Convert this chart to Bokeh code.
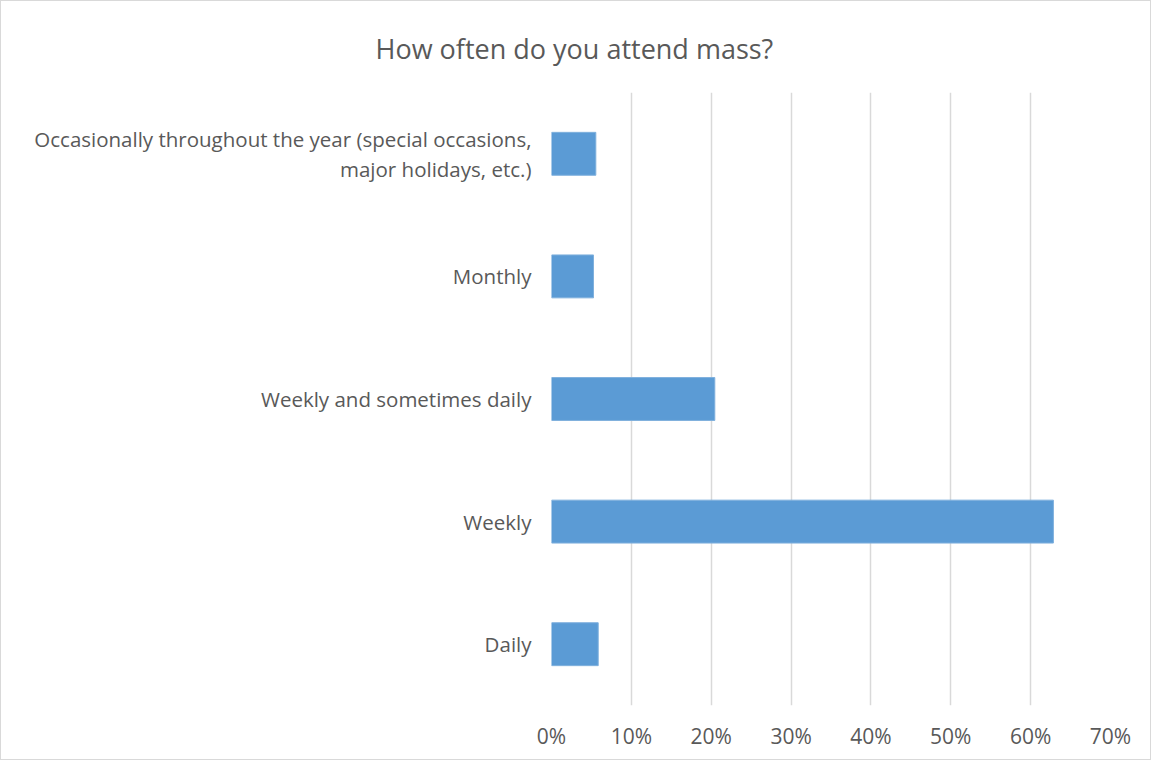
from bokeh.plotting import figure
from bokeh.models import FactorRange, NumeralTickFormatter, FixedTicker, Title
from bokeh.embed import file_html
from bokeh.resources import INLINE

categories = [
    "Daily",
    "Weekly",
    "Weekly and sometimes daily",
    "Monthly",
    "Occasionally throughout the year (special occasions,\nmajor holidays, etc.)",
]
values = [0.0585, 0.6285, 0.2045, 0.0526, 0.0555]
x_ticks = [0, 0.1, 0.2, 0.3, 0.4, 0.5, 0.6, 0.7]

TEXT = "#595959"
FONT = "Open Sans"

p = figure(
    width=1151, height=760,
    y_range=FactorRange(factors=categories, range_padding=0),
    x_range=(0, 0.7),
    output_backend="svg", toolbar_location=None,
    min_border_left=550, min_border_right=42,
    min_border_top=10, min_border_bottom=56,
)
p.styles = {"border": "1px solid #D9D9D9", "box-sizing": "border-box"}

t = Title(text="How often do you attend mass?", align="left", offset=-176,
          text_font=FONT, text_font_size="27px", text_font_style="normal",
          text_color=TEXT, standoff=52)
p.add_layout(t, "above")

p.hbar(y=categories, right=values, left=0, height=0.35,
       fill_color="#5B9BD5", line_color="#7FB0DD", line_width=1)

p.xaxis.ticker = FixedTicker(ticks=x_ticks)
p.xaxis.formatter = NumeralTickFormatter(format="0%")
p.xaxis.axis_line_color = None
p.xaxis.major_tick_line_color = None
p.xaxis.minor_tick_line_color = None
p.xaxis.major_tick_out = 0
p.xaxis.major_tick_in = 0
p.xaxis.major_label_standoff = 16
p.xaxis.major_label_text_font = FONT
p.xaxis.major_label_text_font_size = "21px"
p.xaxis.major_label_text_color = TEXT

p.yaxis.axis_line_color = None
p.yaxis.major_tick_line_color = None
p.yaxis.minor_tick_line_color = None
p.yaxis.major_tick_out = 0
p.yaxis.major_tick_in = 0
p.yaxis.major_label_standoff = 20
p.yaxis.major_label_text_font = FONT
p.yaxis.major_label_text_font_size = "20.5px"
p.yaxis.major_label_text_line_height = 1.07
p.yaxis.major_label_text_color = TEXT

p.ygrid.grid_line_color = None
p.xgrid.grid_line_color = "#D9D9D9"
p.xgrid.grid_line_width = 1.5
p.outline_line_color = None

open("out.html", "w").write(file_html(p, INLINE))
